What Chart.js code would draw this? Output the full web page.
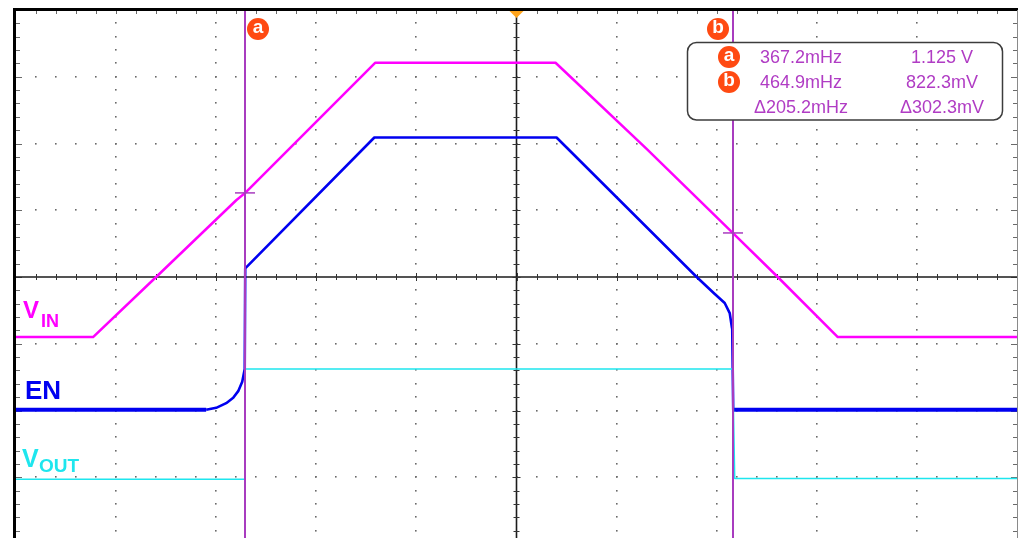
<!DOCTYPE html>
<html><head><meta charset="utf-8">
<script src="https://cdn.jsdelivr.net/npm/chart.js@4/dist/chart.umd.min.js"></script>
<style>html,body{margin:0;padding:0;background:#fff;overflow:hidden}canvas{display:block}</style>
</head><body>
<canvas id="c" width="1018" height="538"></canvas>
<script>
// Trace data in scope divisions (x: 0..10 across screen, y: 0 = centre line)
const vinX = [0, 0.77, 1.40, 2.20, 2.29, 3.59, 5.39, 6.30, 7.16, 7.61, 8.21, 10];
const vinY = [-0.90, -0.90, 0, 1.15, 1.26, 3.21, 3.21, 1.92, 0.66, 0, -0.90, -0.90];
const enX = [0, 1.90, 2.00, 2.10, 2.17, 2.22, 2.26, 2.285, 2.29, 3.58, 5.40, 6.80, 6.97, 7.08, 7.13, 7.15, 7.155, 7.165, 10];
const enY = [-1.99, -1.99, -1.96, -1.89, -1.81, -1.71, -1.57, -1.38, 0.13, 2.09, 2.09, 0, -0.24, -0.39, -0.54, -0.74, -0.78, -1.99, -1.99];
const voutX = [0, 2.29, 2.29, 7.16, 7.18, 10];
const voutY = [-3.03, -3.03, -1.38, -1.38, -3.02, -3.02];
const cursorX = [2.29, 7.16];
const cursorY = [1.26, 0.66];
const cursorNames = ['a', 'b'];
const readFreq = ['367.2mHz', '464.9mHz', '\u0394205.2mHz'];
const readVolt = ['1.125 V', '822.3mV', '\u0394302.3mV'];
const traceMain = ['V', 'EN', 'V'];
const traceSub = ['IN', '', 'OUT'];

const C_VIN = '#ff00ff', C_EN = '#0000f0', C_VOUT = '#1ee6ee';
const C_CUR = '#a83cbf', C_BADGE = '#ff4a12', C_TXT = '#b03cc4';

function pts(xs, ys) { return xs.map((x, i) => ({ x: x, y: ys[i] })); }

function badge(ctx, cx, cy, r, letter) {
  ctx.save();
  ctx.fillStyle = C_BADGE;
  ctx.beginPath(); ctx.arc(cx, cy, r, 0, Math.PI * 2); ctx.fill();
  ctx.fillStyle = '#fff';
  ctx.font = 'bold ' + Math.round(r * 1.7) + 'px "Liberation Sans", Arial, sans-serif';
  ctx.textAlign = 'center'; ctx.textBaseline = 'middle';
  ctx.fillText(letter, cx, cy - 1);
  ctx.restore();
}

const scopeDeco = {
  id: 'scopeDeco',
  beforeDatasetsDraw(chart) {
    const ctx = chart.ctx, xs = chart.scales.x, ys = chart.scales.y, a = chart.chartArea;
    ctx.save();
    // dotted grid
    ctx.fillStyle = '#6a6a6a';
    for (let i = 1; i <= 9; i++) {
      if (i === 5) continue;
      const px = Math.round(xs.getPixelForValue(i));
      for (let k = -20; k <= 19; k++) {
        const py = Math.round(ys.getPixelForValue(k * 0.2));
        if (py < a.top + 3 || py > a.bottom) continue;
        ctx.fillRect(px - 1, py - 1, 1.6, 1.6);
      }
    }
    for (let j = -3; j <= 3; j++) {
      if (j === 0) continue;
      const py = Math.round(ys.getPixelForValue(j));
      for (let k = 1; k < 50; k++) {
        const px = Math.round(xs.getPixelForValue(k * 0.2));
        ctx.fillRect(px - 1, py - 1, 1.6, 1.6);
      }
    }
    // edge ticks
    ctx.strokeStyle = '#6a6a6a'; ctx.lineWidth = 1;
    ctx.beginPath();
    for (let k = 1; k < 50; k++) {
      const px = Math.round(xs.getPixelForValue(k * 0.2)) + 0.5;
      ctx.moveTo(px, a.top + 1); ctx.lineTo(px, a.top + 4);
    }
    for (let k = -19; k <= 19; k++) {
      const py = Math.round(ys.getPixelForValue(k * 0.2)) + 0.5;
      const len = (k % 5 === 0) ? 6 : 4;
      ctx.moveTo(a.left, py); ctx.lineTo(a.left + len, py);
      ctx.moveTo(a.right - len, py); ctx.lineTo(a.right, py);
    }
    ctx.stroke();
    // centre axes
    const y0 = ys.getPixelForValue(0), x5 = xs.getPixelForValue(5);
    ctx.strokeStyle = '#1c1c1c'; ctx.lineWidth = 1.6;
    ctx.beginPath();
    ctx.moveTo(a.left, y0); ctx.lineTo(a.right + 1, y0);
    ctx.moveTo(x5, a.top); ctx.lineTo(x5, a.bottom);
    ctx.stroke();
    ctx.lineWidth = 1; ctx.strokeStyle = '#333';
    ctx.beginPath();
    for (let k = 1; k < 50; k++) {
      const px = Math.round(xs.getPixelForValue(k * 0.2)) + 0.5;
      const len = (k % 5 === 0) ? 4 : 3;
      ctx.moveTo(px, y0 - len); ctx.lineTo(px, y0 + len);
    }
    for (let k = -19; k <= 19; k++) {
      const py = Math.round(ys.getPixelForValue(k * 0.2)) + 0.5;
      const len = (k % 5 === 0) ? 4 : 3;
      ctx.moveTo(x5 - len, py); ctx.lineTo(x5 + len, py);
    }
    ctx.stroke();
    // borders
    ctx.fillStyle = '#000';
    ctx.fillRect(a.left - 3, a.top - 2, a.right - a.left + 4, 3);
    ctx.fillRect(a.left - 3, a.top - 2, 3, a.bottom - a.top + 2);
    ctx.fillStyle = '#8a8a8a';
    ctx.fillRect(a.right, a.top, 1, a.bottom - a.top);
    ctx.restore();
  },
  afterDatasetsDraw(chart) {
    const ctx = chart.ctx, xs = chart.scales.x, ys = chart.scales.y, a = chart.chartArea;
    ctx.save();
    // cursors
    ctx.strokeStyle = C_CUR; ctx.lineWidth = 2;
    cursorX.forEach((cx, i) => {
      const px = Math.round(xs.getPixelForValue(cx));
      ctx.beginPath(); ctx.moveTo(px, a.top + 1); ctx.lineTo(px, a.bottom); ctx.stroke();
      const py = ys.getPixelForValue(cursorY[i]);
      ctx.lineWidth = 1.5;
      ctx.beginPath(); ctx.moveTo(px - 10, py); ctx.lineTo(px + 10, py); ctx.stroke();
      ctx.lineWidth = 2;
      badge(ctx, px + (i === 0 ? 13 : -15), 29, 11, cursorNames[i]);
    });
    // trigger marker
    const x5 = xs.getPixelForValue(5);
    ctx.fillStyle = '#ffa41c';
    ctx.beginPath(); ctx.moveTo(x5 - 7, a.top + 1); ctx.lineTo(x5 + 7, a.top + 1); ctx.lineTo(x5, a.top + 8); ctx.closePath(); ctx.fill();
    // readout box
    ctx.beginPath();
    ctx.roundRect(687.5, 42.5, 315, 77.5, 9);
    ctx.fillStyle = '#fff'; ctx.fill();
    ctx.strokeStyle = '#3c3c3c'; ctx.lineWidth = 1.5; ctx.stroke();
    badge(ctx, 729, 57, 11, cursorNames[0]);
    badge(ctx, 729, 82, 11, cursorNames[1]);
    ctx.fillStyle = C_TXT;
    ctx.font = '18px "Liberation Sans", Arial, sans-serif';
    ctx.textAlign = 'center'; ctx.textBaseline = 'alphabetic';
    const base = [63, 88, 113];
    readFreq.forEach((t, i) => ctx.fillText(t, 801, base[i]));
    readVolt.forEach((t, i) => ctx.fillText(t, 942, base[i]));
    // trace labels
    ctx.textAlign = 'left';
    const lbl = [
      { c: C_VIN, x: 23, y: 318, f: 24, sx: 41, sy: 327, sf: 18 },
      { c: C_EN, x: 25, y: 399, f: 26 },
      { c: C_VOUT, x: 22, y: 467, f: 25, sx: 39, sy: 472, sf: 19 }
    ];
    lbl.forEach((L, i) => {
      ctx.fillStyle = L.c;
      ctx.font = 'bold ' + L.f + 'px "Liberation Sans", Arial, sans-serif';
      ctx.fillText(traceMain[i], L.x, L.y);
      if (traceSub[i]) {
        ctx.font = 'bold ' + L.sf + 'px "Liberation Sans", Arial, sans-serif';
        ctx.fillText(traceSub[i], L.sx, L.sy);
      }
    });
    ctx.restore();
  }
};

new Chart(document.getElementById('c'), {
  type: 'line',
  data: {
    datasets: [
      { label: 'VOUT', data: pts(voutX, voutY), borderColor: C_VOUT, borderWidth: 1.5 },
      { label: 'EN', data: pts(enX, enY), borderColor: C_EN, borderWidth: 3,
        segment: { borderWidth: c => (c.p0.parsed.y === c.p1.parsed.y && c.p0.parsed.y < -1.5) ? 4 : 2.6 } },
      { label: 'VIN', data: pts(vinX, vinY), borderColor: C_VIN, borderWidth: 2.5 }
    ]
  },
  options: {
    responsive: false, animation: false, devicePixelRatio: 1,
    layout: { padding: { left: 16, top: 10, right: 1, bottom: 0 } },
    elements: { point: { radius: 0 }, line: { tension: 0, borderJoinStyle: 'round', borderCapStyle: 'butt' } },
    plugins: { legend: { display: false }, tooltip: { enabled: false } },
    scales: {
      x: { type: 'linear', min: 0, max: 10, display: false },
      y: { type: 'linear', min: -3.91, max: 4, display: false }
    }
  },
  plugins: [scopeDeco]
});
</script>
</body></html>
